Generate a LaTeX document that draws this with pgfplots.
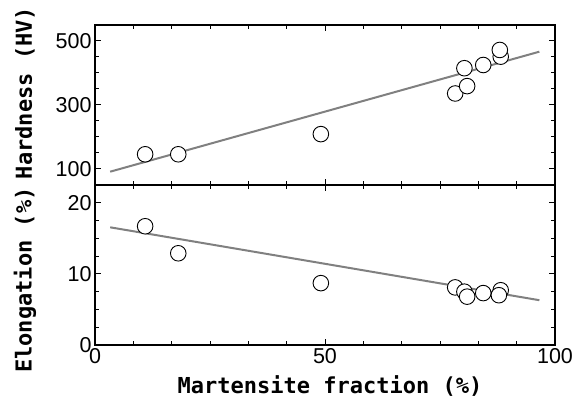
\documentclass[border=0pt]{standalone}
\usepackage{fontspec}
\setmainfont{Liberation Sans}
\newfontfamily\labelfont{DejaVu Sans Mono}
\usepackage{pgfplots}
\pgfplotsset{compat=1.18}
\definecolor{lg}{RGB}{128,128,128}
\begin{document}
\begin{tikzpicture}
\path[use as bounding box] (0bp,0bp) rectangle (581bp,398bp);
\pgfplotsset{common/.style={
  scale only axis, width=460bp, height=160bp,
  xmin=0, xmax=100, xtick={0,50,100}, minor x tick num=5,
  tick align=inside, major tick length=6bp, minor tick length=4bp,
  axis line style={line width=1.3bp},
  tick style={line width=1bp, black},
  /pgf/number format/assume math mode=true,
  tick label style={font=\fontsize{21.5bp}{22bp}\selectfont},
  label style={font=\labelfont\bfseries\fontsize{22bp}{22bp}\selectfont},
}}
\begin{axis}[common, at={(95bp,213bp)}, anchor=south west,
  ymin=50, ymax=550, ytick={100,300,500}, minor y tick num=3,
  xticklabels={},
  ylabel={Hardness (HV)},
  ylabel style={at={(axis description cs:-0.152,0.575)}, anchor=center, rotate=0},
]
\addplot[lg, line width=2bp, no marks] coordinates {(3.3,91.6) (96.6,466.6)};
\addplot[only marks, mark=*, mark size=7.8bp, mark options={fill=white, draw=black, line width=0.9bp}] coordinates {
(10.9,146) (18.1,146) (49.1,209) (78.3,336) (80.9,359) (80.3,415) (84.4,425) (88.2,451) (88.0,472)
};
\end{axis}
\begin{axis}[common, at={(95bp,53bp)}, anchor=south west,
  ymin=0, ymax=22.5, ytick={0,10,20}, minor y tick num=3,
  xlabel={Martensite fraction (\%)},
  xlabel style={at={(axis description cs:0.511,-0.30)}, anchor=base},
  ylabel={Elongation (\%)},
  ylabel style={at={(axis description cs:-0.152,0.406)}, anchor=center, rotate=0},
]
\addplot[lg, line width=2bp, no marks] coordinates {(3.3,16.55) (96.6,6.3)};
\addplot[only marks, mark=*, mark size=7.8bp, mark options={fill=white, draw=black, line width=0.9bp}] coordinates {
(10.9,16.7) (18.1,12.9) (49.1,8.7) (78.3,8.1) (80.3,7.5) (80.9,6.8) (84.4,7.3) (88.2,7.7) (87.8,7.0)
};
\end{axis}
\end{tikzpicture}
\end{document}
